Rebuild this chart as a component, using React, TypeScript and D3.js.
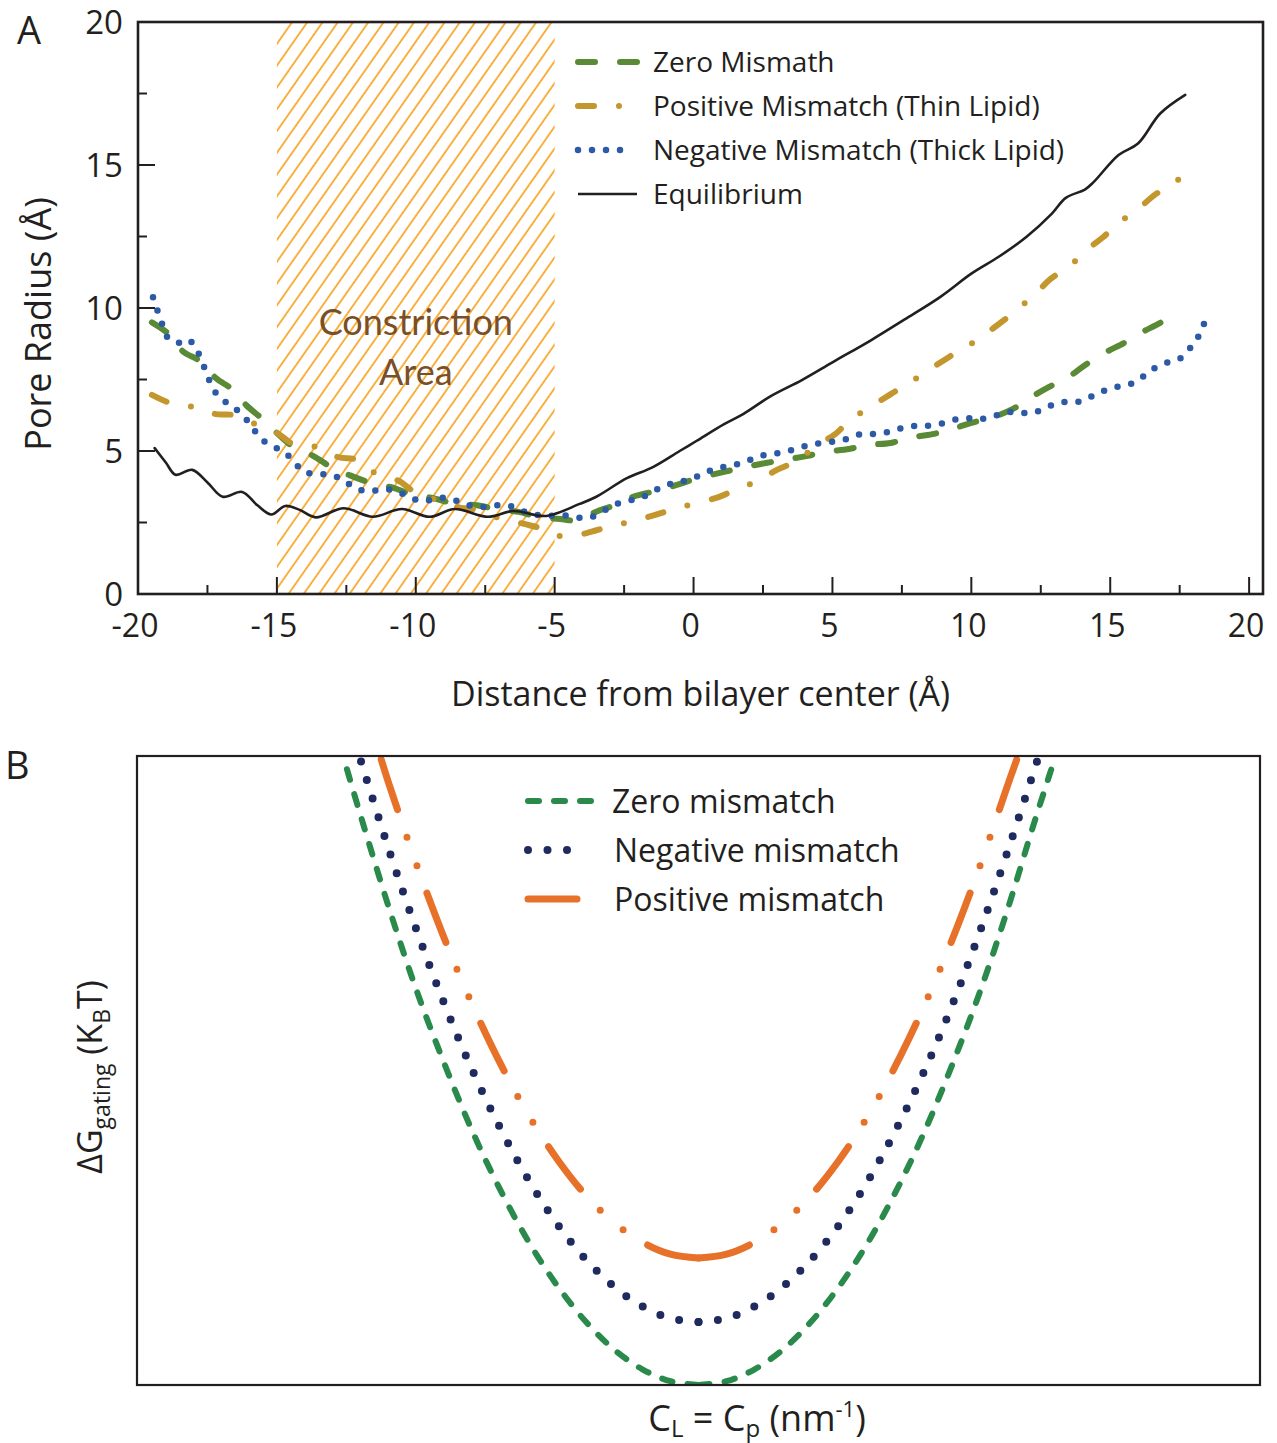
import React from 'react';
import * as d3 from 'd3';

// Panel A: pore radius profiles (x = distance from bilayer center, y = radius, both in Å)
const zeroMismatch: [number, number][] = [
  [-19.5, 9.5], [-18.9, 9.1], [-18.4, 8.5], [-17.7, 8.1], [-17.2, 7.55], [-16.6, 7.15], [-16.1, 6.6],
  [-15.5, 6.1], [-15.0, 5.63], [-14.4, 5.14], [-13.7, 4.83], [-13.0, 4.41], [-12.4, 4.16], [-11.6, 3.88],
  [-10.8, 3.71], [-10.1, 3.46], [-9.4, 3.36], [-8.7, 3.18], [-7.8, 3.1], [-7.1, 2.97], [-6.3, 2.87],
  [-5.6, 2.7], [-4.8, 2.62], [-4.2, 2.58], [-3.4, 2.92], [-2.7, 3.15], [-2.2, 3.39], [-1.2, 3.64],
  [-0.4, 3.88], [0.2, 4.06], [1.1, 4.27], [1.7, 4.41], [2.6, 4.58], [3.25, 4.69], [4.1, 4.83],
  [4.7, 4.97], [5.6, 5.07], [6.2, 5.21], [7.1, 5.28], [7.7, 5.45], [8.6, 5.59], [9.3, 5.77],
  [10.0, 5.98], [10.8, 6.19], [11.5, 6.47], [12.1, 6.85], [12.8, 7.24], [13.5, 7.59], [14.1, 8.01],
  [14.8, 8.43], [15.5, 8.78], [16.1, 9.13], [16.8, 9.48], [17.5, 9.9],
];

const positiveMismatch: [number, number][] = [
  [-19.5, 6.96], [-18.85, 6.68], [-18.0, 6.54], [-17.2, 6.29], [-16.6, 6.26], [-15.8, 5.95],
  [-15.0, 5.63], [-14.4, 5.24], [-13.6, 5.15], [-12.8, 4.79], [-12.1, 4.69], [-11.5, 4.25],
  [-10.6, 3.95], [-10.1, 3.6], [-9.3, 3.3], [-8.5, 3.04], [-7.8, 2.94], [-7.0, 2.66], [-6.1, 2.45],
  [-5.4, 2.27], [-4.7, 2.0], [-3.85, 2.13], [-3.1, 2.34], [-2.3, 2.52], [-1.5, 2.73], [-0.8, 2.94],
  [0.0, 3.15], [0.9, 3.39], [1.5, 3.64], [2.3, 3.95], [3.0, 4.34], [3.7, 4.65], [4.4, 5.17],
  [5.1, 5.59], [5.6, 6.05], [6.3, 6.5], [7.1, 6.99], [7.65, 7.31], [8.5, 7.85], [9.3, 8.35],
  [10.0, 8.75], [10.8, 9.3], [11.6, 9.9], [12.3, 10.5], [12.9, 11.05], [13.5, 11.43], [14.1, 11.99],
  [14.75, 12.48], [15.3, 12.97], [16.0, 13.46], [16.65, 13.99], [17.3, 14.34], [17.85, 15.0],
];

const negativeMismatch: [number, number][] = [
  [-19.46, 10.38], [-19.13, 9.44], [-18.95, 8.99], [-18.59, 8.78], [-18.2, 8.9], [-17.87, 8.5],
  [-17.51, 7.66], [-17.33, 7.24], [-17.04, 6.85], [-16.61, 6.57], [-16.21, 6.22], [-15.89, 5.84],
  [-15.6, 5.45], [-15.17, 5.17], [-14.74, 4.97], [-14.38, 4.62], [-14.02, 4.27], [-13.51, 4.2],
  [-13.01, 4.16], [-12.57, 3.95], [-12.11, 3.67], [-11.64, 3.6], [-11.13, 3.67], [-10.63, 3.57],
  [-10.19, 3.36], [-9.69, 3.25], [-9.22, 3.36], [-8.72, 3.32], [-8.25, 3.15], [-7.74, 3.04],
  [-7.24, 3.08], [-6.73, 3.11], [-6.27, 2.94], [-5.8, 2.8], [-5.29, 2.73], [-4.79, 2.76],
  [-4.28, 2.69], [-3.78, 2.66], [-3.31, 2.87], [-2.88, 3.11], [-2.41, 3.25], [-1.9, 3.36],
  [-1.43, 3.6], [-0.96, 3.81], [-0.49, 3.92], [0.01, 4.06], [0.48, 4.27], [0.94, 4.41], [1.45, 4.51],
  [1.92, 4.65], [2.39, 4.83], [2.89, 4.9], [3.4, 5.0], [3.9, 5.14], [4.37, 5.24], [4.87, 5.31],
  [5.38, 5.38], [5.88, 5.56], [6.35, 5.59], [6.86, 5.63], [7.36, 5.77], [7.87, 5.87], [8.33, 5.87],
  [8.84, 5.94], [9.34, 6.08], [9.85, 6.15], [10.32, 6.12], [10.82, 6.22], [11.33, 6.36], [11.83, 6.33],
  [12.3, 6.36], [12.8, 6.57], [13.31, 6.71], [13.81, 6.71], [14.28, 6.89], [14.75, 7.1], [15.22, 7.24],
  [15.72, 7.34], [16.16, 7.59], [16.55, 7.87], [17.02, 8.08], [17.49, 8.22], [17.85, 8.57],
  [18.14, 8.95], [18.36, 9.41], [18.54, 9.9],
];

const equilibrium: [number, number][] = [
  [-19.4, 5.1], [-19.0, 4.6], [-18.65, 4.17], [-18.05, 4.34], [-17.5, 3.9], [-16.95, 3.4],
  [-16.25, 3.57], [-15.7, 3.1], [-15.2, 2.78], [-14.7, 3.08], [-14.2, 2.95], [-13.6, 2.68],
  [-12.6, 3.0], [-11.55, 2.7], [-10.5, 2.97], [-9.5, 2.7], [-8.6, 2.97], [-7.4, 2.7], [-6.5, 2.9],
  [-5.3, 2.73], [-4.1, 3.15], [-3.5, 3.4], [-2.4, 4.05], [-1.5, 4.42], [-0.5, 5.0], [0.1, 5.35],
  [1.1, 5.94], [1.8, 6.3], [2.75, 6.9], [3.9, 7.48], [5.0, 8.1], [6.4, 8.88], [7.6, 9.6],
  [8.9, 10.4], [10.0, 11.2], [11.0, 11.8], [12.0, 12.5], [12.9, 13.3], [13.4, 13.85], [14.1, 14.15],
  [14.4, 14.4], [15.3, 15.35], [16.0, 15.75], [16.8, 16.8], [17.7, 17.45],
];

const xTicksA = [-20, -15, -10, -5, 0, 5, 10, 15, 20];
const yTicksA = [0, 5, 10, 15, 20];
const constriction = [-15, -5];

// Panel B: gating energy vs curvature, arbitrary units, each curve read as (x, y)
const zeroB: [number, number][] = [
  [-0.633, 1.0], [-0.6, 0.9], [-0.55, 0.755], [-0.5, 0.622], [-0.45, 0.505], [-0.4, 0.398],
  [-0.35, 0.305], [-0.3, 0.224], [-0.25, 0.156], [-0.2, 0.1], [-0.15, 0.056], [-0.1, 0.025],
  [-0.05, 0.006], [0, 0], [0.05, 0.006], [0.1, 0.025], [0.15, 0.056], [0.2, 0.1], [0.25, 0.156],
  [0.3, 0.224], [0.35, 0.305], [0.4, 0.398], [0.45, 0.505], [0.5, 0.622], [0.55, 0.755],
  [0.6, 0.9], [0.636, 1.0],
];
const negativeB: [number, number][] = [
  [-0.604, 1.0], [-0.55, 0.847], [-0.5, 0.718], [-0.45, 0.6], [-0.4, 0.495], [-0.35, 0.403],
  [-0.3, 0.322], [-0.25, 0.254], [-0.2, 0.199], [-0.15, 0.156], [-0.1, 0.125], [-0.05, 0.106],
  [0, 0.1], [0.05, 0.106], [0.1, 0.125], [0.15, 0.156], [0.2, 0.199], [0.25, 0.254], [0.3, 0.322],
  [0.35, 0.403], [0.4, 0.495], [0.45, 0.6], [0.5, 0.718], [0.55, 0.847], [0.606, 1.0],
];
const positiveB: [number, number][] = [
  [-0.567, 1.0], [-0.55, 0.952], [-0.5, 0.822], [-0.45, 0.704], [-0.4, 0.599], [-0.35, 0.506],
  [-0.3, 0.425], [-0.25, 0.357], [-0.2, 0.301], [-0.15, 0.258], [-0.1, 0.227], [-0.05, 0.208],
  [0, 0.202], [0.05, 0.208], [0.1, 0.227], [0.15, 0.258], [0.2, 0.301], [0.25, 0.357], [0.3, 0.425],
  [0.35, 0.506], [0.4, 0.599], [0.45, 0.704], [0.5, 0.822], [0.55, 0.952], [0.569, 1.0],
];

const FONT = "'Open Sans', 'Noto Sans', sans-serif";
const TXT = '#231f20';

const A = { left: 138, right: 1263, top: 22, bottom: 594 };
const B = { left: 137, right: 1260, top: 756, bottom: 1385 };

const seriesA = [
  { name: 'Zero Mismath', data: zeroMismatch, color: '#5a8a36', width: 6, dash: '17 25', legendEnd: 637 },
  { name: 'Positive Mismatch (Thin Lipid)', data: positiveMismatch, color: '#c4962e', width: 6, dash: '16 25 0 25', legendEnd: 620 },
  { name: 'Negative Mismatch (Thick Lipid)', data: negativeMismatch, color: '#2d5aa6', width: 6.5, dash: '0 14', legendEnd: 634 },
  { name: 'Equilibrium', data: equilibrium, color: '#231f20', width: 2.6, dash: '', legendEnd: 637 },
];

const seriesB = [
  { name: 'Zero mismatch', data: zeroB, color: '#2a8a4c', width: 6, dash: '11 15', legendEnd: 606 },
  { name: 'Negative mismatch', data: negativeB, color: '#1f2a5e', width: 8, dash: '0 19.5', legendEnd: 586.5 },
  { name: 'Positive mismatch', data: positiveB, color: '#e8712a', width: 7, dash: '53 29 0 30 0 29', legendEnd: 577 },
];

const PanelA = () => {
  const x = d3.scaleLinear().domain([-20, 20.5]).range([A.left, A.right]);
  const y = d3.scaleLinear().domain([0, 20]).range([A.bottom, A.top]);
  const line = d3.line<[number, number]>().x(d => x(d[0])).y(d => y(d[1])).curve(d3.curveCatmullRom.alpha(0.5));
  const minor = d3.range(-20, 20.01, 2.5);
  const minorY = d3.range(0, 20.01, 2.5);

  return (
    <g>
      <defs>
        <pattern id="hatch" patternUnits="userSpaceOnUse" width={12.5} height={20} patternTransform="rotate(35)">
          <line x1={2} y1={0} x2={2} y2={20} stroke="#f8a92e" strokeWidth={1.8} />
        </pattern>
        <clipPath id="clipA">
          <rect x={A.left} y={A.top} width={A.right - A.left} height={A.bottom - A.top} />
        </clipPath>
      </defs>
      <rect x={x(constriction[0])} y={A.top} width={x(constriction[1]) - x(constriction[0])}
        height={A.bottom - A.top} fill="url(#hatch)" />
      <text x={x(-10)} y={335} textAnchor="middle" fontFamily="Lato, sans-serif" fontSize={36} fill="#7a4e26">Constriction</text>
      <text x={x(-10)} y={385} textAnchor="middle" fontFamily="Lato, sans-serif" fontSize={36} fill="#7a4e26">Area</text>

      <g clipPath="url(#clipA)">
        {seriesA.map(s => (
          <path key={s.name} d={line(s.data) || ''} fill="none" stroke={s.color} strokeWidth={s.width}
            strokeDasharray={s.dash || undefined} strokeLinecap="round" strokeLinejoin="round" />
        ))}
      </g>

      {/* ticks, pointing inward */}
      {minor.map(t => (
        <line key={'xt' + t} x1={x(t)} x2={x(t)} y1={A.bottom} y2={A.bottom - (t % 5 === 0 ? 17 : 9)}
          stroke={TXT} strokeWidth={2} />
      ))}
      {minorY.map(t => (
        <line key={'yt' + t} x1={A.left} x2={A.left + (t % 5 === 0 ? 17 : 9)} y1={y(t)} y2={y(t)}
          stroke={TXT} strokeWidth={2} />
      ))}
      <rect x={A.left} y={A.top} width={A.right - A.left} height={A.bottom - A.top} fill="none"
        stroke={TXT} strokeWidth={2.6} />

      {xTicksA.map(t => (
        <text key={'xl' + t} x={x(t) - 3} y={637} textAnchor="middle" fontFamily={FONT} fontSize={32} fill={TXT}>{t}</text>
      ))}
      {yTicksA.map(t => (
        <text key={'yl' + t} x={123} y={y(t)} dy="0.36em" textAnchor="end" fontFamily={FONT} fontSize={33} fill={TXT}>{t}</text>
      ))}
      <text x={(A.left + A.right) / 2} y={706} textAnchor="middle" fontFamily={FONT} fontSize={34} fill={TXT}>
        Distance from bilayer center (Å)
      </text>
      <text transform={`translate(51,${324}) rotate(-90)`} textAnchor="middle" fontFamily={FONT} fontSize={36} fill={TXT}>
        Pore Radius (Å)
      </text>
      <text x={17} y={44} fontFamily={FONT} fontSize={38} fill={TXT}>A</text>

      {seriesA.map((s, i) => {
        const ly = 62 + i * 44;
        return (
          <g key={'lg' + s.name}>
            <line x1={578} x2={s.legendEnd} y1={ly} y2={ly} stroke={s.color} strokeWidth={s.width}
              strokeDasharray={s.dash || undefined} strokeLinecap={s.dash ? 'round' : 'butt'} />
            <text x={653} y={ly} dy="0.36em" fontFamily={FONT} fontSize={28} fill={TXT}>{s.name}</text>
          </g>
        );
      })}
    </g>
  );
};

const PanelB = () => {
  const x = d3.scaleLinear().domain([-1, 1]).range([B.left, B.right]);
  const y = d3.scaleLinear().domain([0, 1]).range([B.bottom, B.top]);
  const line = d3.line<[number, number]>().x(d => x(d[0])).y(d => y(d[1])).curve(d3.curveCatmullRom.alpha(0.5));

  return (
    <g>
      <defs>
        <clipPath id="clipB">
          <rect x={B.left} y={B.top} width={B.right - B.left} height={B.bottom - B.top} />
        </clipPath>
      </defs>
      <g clipPath="url(#clipB)">
        {seriesB.map(s => {
          // each branch is traced outward from the minimum
          const left = s.data.filter(d => d[0] <= 0).slice().reverse();
          const right = s.data.filter(d => d[0] >= 0);
          return (
            <g key={s.name}>
              {[left, right].map((part, k) => (
                <path key={k} d={line(part) || ''} fill="none" stroke={s.color} strokeWidth={s.width}
                  strokeDasharray={s.dash} strokeLinecap="round" />
              ))}
            </g>
          );
        })}
      </g>
      <rect x={B.left} y={B.top} width={B.right - B.left} height={B.bottom - B.top} fill="none"
        stroke={TXT} strokeWidth={2.2} />

      {seriesB.map((s, i) => {
        const ly = 801 + i * 49;
        return (
          <g key={'lg' + s.name}>
            <line x1={528} x2={s.legendEnd} y1={ly} y2={ly} stroke={s.color} strokeWidth={s.width}
              strokeDasharray={s.dash} strokeLinecap="round" />
            <text x={i === 0 ? 612 : 614} y={ly} dy="0.36em" fontFamily={FONT} fontSize={32} fill={TXT}>{s.name}</text>
          </g>
        );
      })}

      <text transform="translate(102,1077) rotate(-90)" textAnchor="middle" fontFamily={FONT} fontSize={34} fill={TXT}>
        ΔG<tspan fontSize={23} dy={8}>gating</tspan><tspan dy={-8}> (K</tspan><tspan fontSize={23} dy={8}>B</tspan><tspan dy={-8}>T)</tspan>
      </text>
      <text x={757} y={1431} textAnchor="middle" fontFamily={FONT} fontSize={36} fill={TXT}>
        C<tspan fontSize={24} dy={6}>L</tspan><tspan dy={-6}> = C</tspan><tspan fontSize={24} dy={6}>p</tspan><tspan dy={-6}> (nm</tspan><tspan fontSize={22} dy={-14}>-1</tspan><tspan dy={14}>)</tspan>
      </text>
      <text x={5} y={779} fontFamily={FONT} fontSize={38} fill={TXT}>B</text>
    </g>
  );
};

export default function App() {
  return (
    <svg width={1277} height={1443} viewBox="0 0 1277 1443" style={{ display: 'block', position: 'absolute', left: 0, top: 0, background: '#fff' }}>
      <rect width={1277} height={1443} fill="#fff" />
      <PanelA />
      <PanelB />
    </svg>
  );
}
